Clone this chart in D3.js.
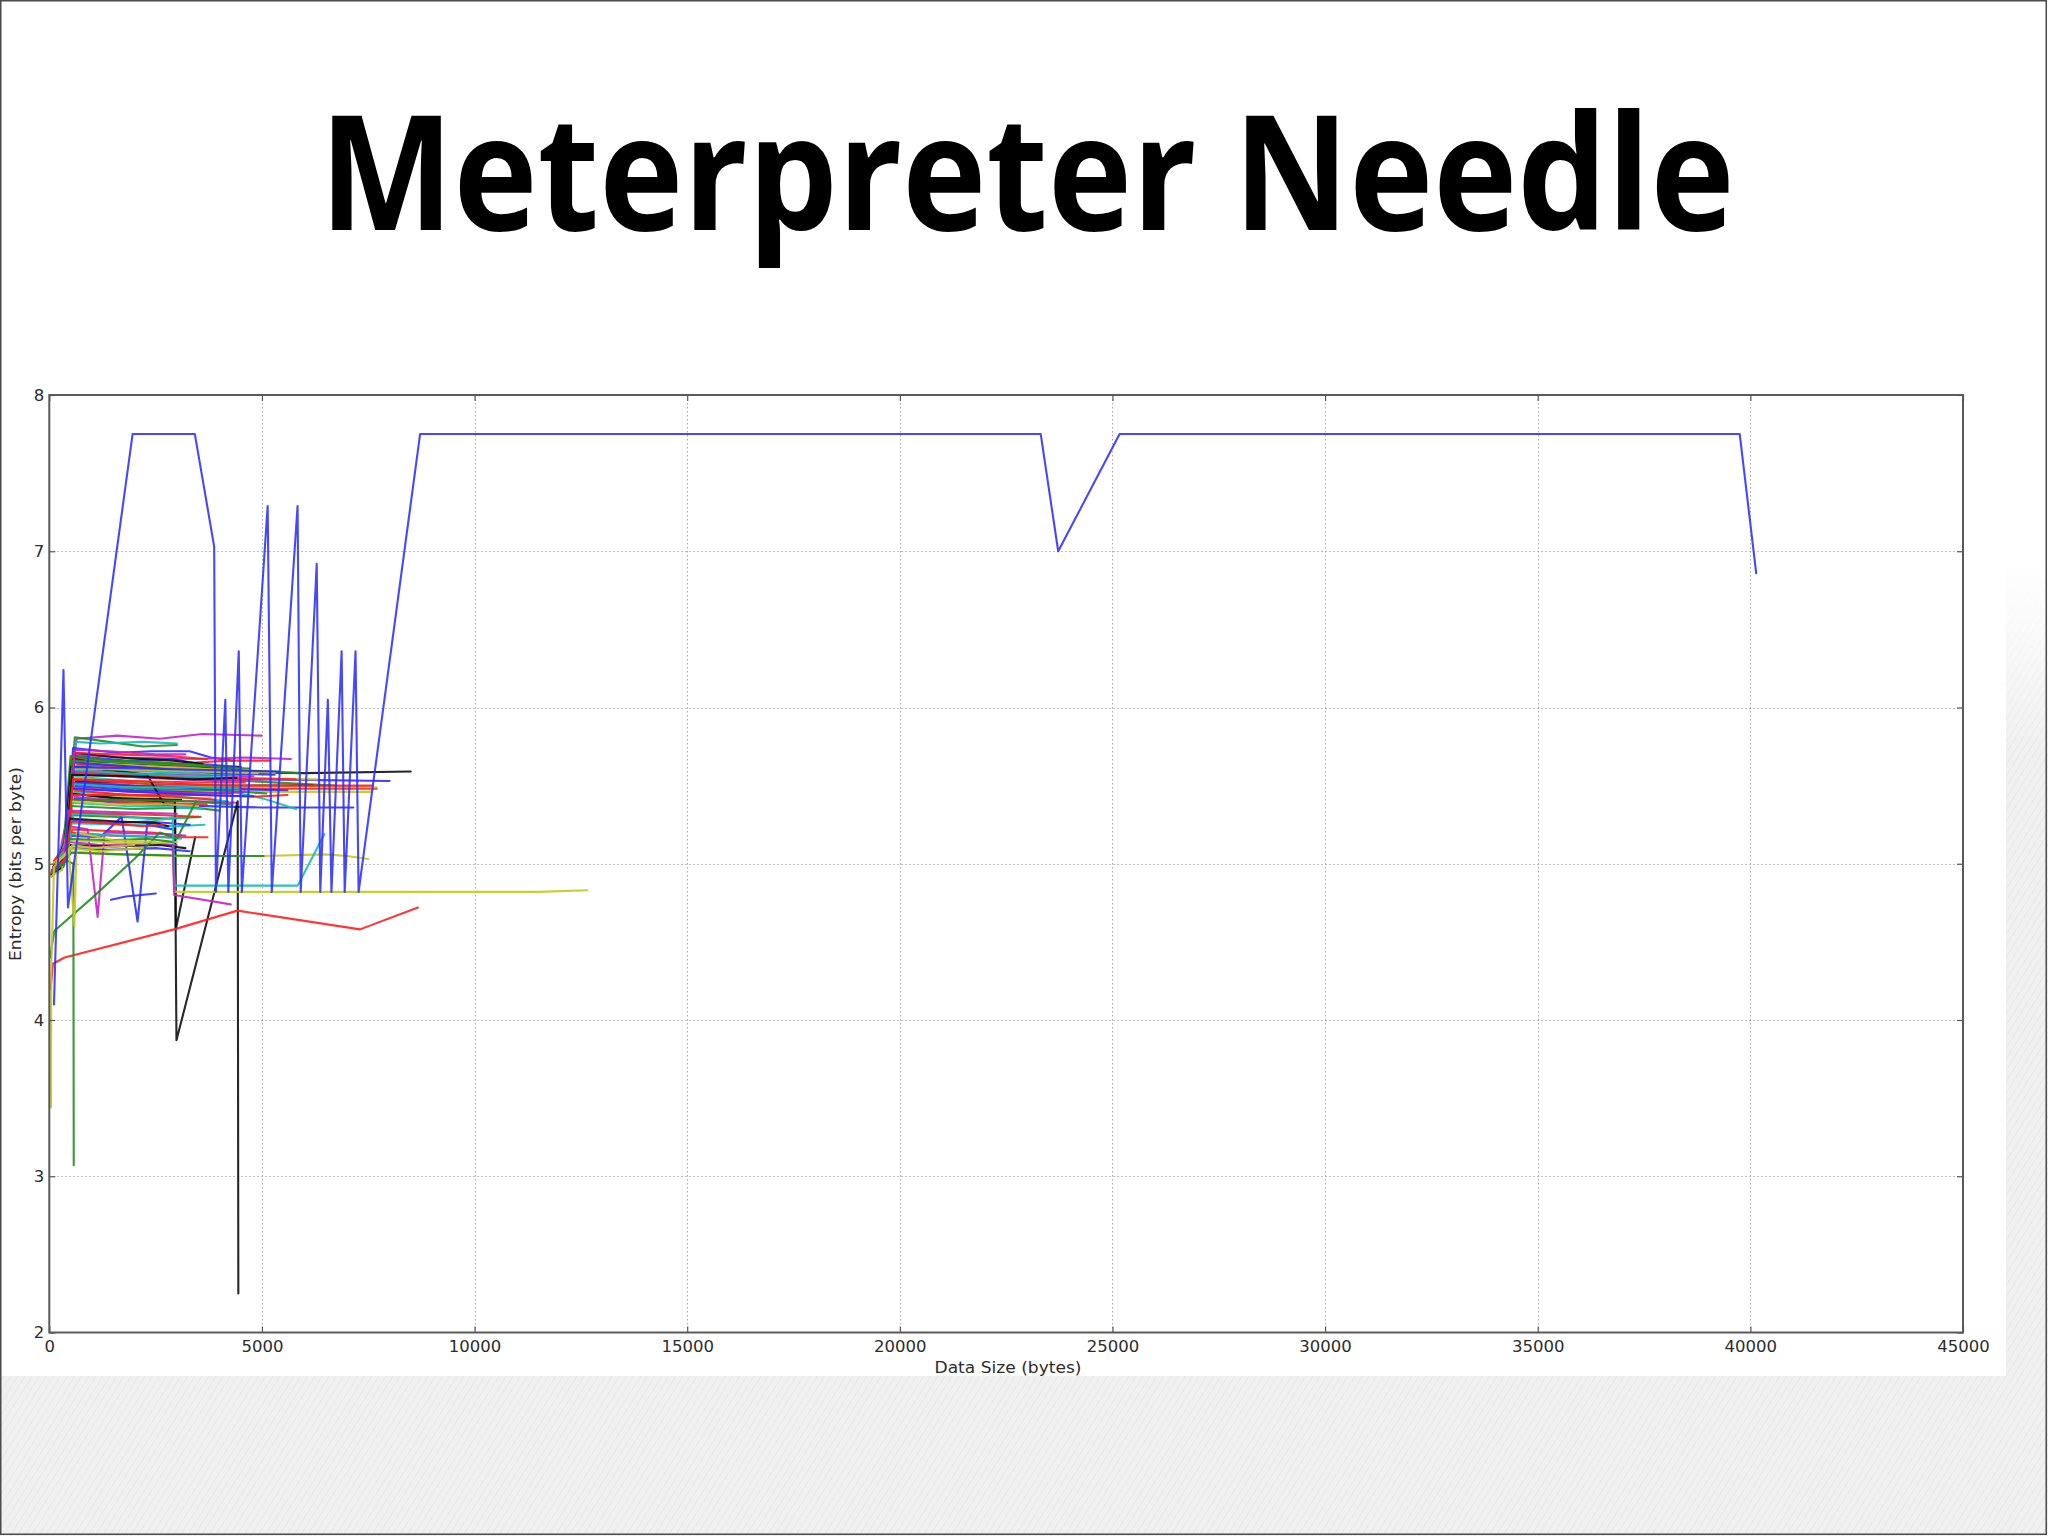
<!DOCTYPE html>
<html><head><meta charset="utf-8">
<script src="https://cdn.jsdelivr.net/npm/d3@7"></script>
<style>html,body{margin:0;padding:0;background:#fff;} svg{display:block}</style>
</head><body>
<svg id="chart" width="2048" height="1536"></svg>
<script>
// ---------------- data ----------------
const titleText = "Meterpreter Needle";
const xLabelText = "Data Size (bytes)";
const yLabelText = "Entropy (bits per byte)";
const xTicks = [0, 5000, 10000, 15000, 20000, 25000, 30000, 35000, 40000, 45000];
const yTicks = [2, 3, 4, 5, 6, 7, 8];
const xDomain = [0, 45000];
const yDomain = [2, 8];

// dense cluster of samples (x = bytes, y = entropy)
const clusterSeries = [
  [[180,4.98],[420,5.30],[640,5.80],[1600,5.82],[2600,5.80],[3600,5.83],[4990,5.82]],
  [[90,4.95],[380,5.10],[600,5.81],[1400,5.78],[2200,5.75],[3000,5.76]],
  [[150,5.02],[430,5.20],[620,5.78],[1200,5.77],[2200,5.78],[3000,5.77]],
  [[60,4.93],[400,5.15],[560,5.74],[1600,5.71],[2400,5.72],[3300,5.72],[3800,5.68],[4300,5.66]],
  [[210,5.00],[450,5.25],[620,5.70],[1800,5.68],[3500,5.67],[4600,5.68],[5680,5.67]],
  [[40,4.92],[360,5.05],[520,5.68],[1500,5.66],[3000,5.64],[4200,5.66],[5200,5.66]],
  [[120,4.96],[380,5.10],[500,5.64],[1300,5.60],[3000,5.59],[6000,5.58],[8500,5.59]],
  [[100,5.00],[400,5.12],[540,5.60],[2000,5.56],[5000,5.54],[8000,5.53]],
  [[70,4.94],[350,5.08],[500,5.53],[2000,5.50],[5000,5.48],[7700,5.48]],
  [[200,5.02],[420,5.12],[580,5.51],[2500,5.47],[5000,5.46],[7550,5.46]],
  [[90,4.97],[360,5.05],[470,5.42],[2000,5.38],[5000,5.36],[7150,5.36]],
  [[230,5.04],[460,5.22],[620,5.64],[2400,5.62],[4400,5.60],[5900,5.58]],
  [[80,4.96],[390,5.10],[490,5.56],[2400,5.52],[4300,5.46],[5000,5.42],[5800,5.35]],
  [[160,5.00],[430,5.18],[560,5.67],[1500,5.64],[3200,5.62],[4500,5.62]],
  [[60,4.95],[370,5.12],[530,5.64],[1600,5.62],[3100,5.62],[4100,5.60]],
  [[250,5.05],[480,5.20],[600,5.58],[2000,5.56],[4000,5.55],[6300,5.54]],
  [[110,4.99],[390,5.10],[540,5.57],[2500,5.55],[4600,5.53],[6700,5.50]],
  [[50,4.94],[340,5.06],[510,5.61],[1700,5.58],[3300,5.57],[4800,5.56]],
  [[190,5.02],[440,5.20],[600,5.69],[1800,5.66],[2900,5.67],[3500,5.64],[4400,5.62]],
  [[100,4.97],[380,5.08],[510,5.46],[2000,5.44],[3400,5.42],[4200,5.40]],
  [[140,5.01],[410,5.12],[550,5.47],[1900,5.44],[3500,5.44],[4900,5.43],[5600,5.44]],
  [[70,4.96],[350,5.06],[480,5.53],[2000,5.52],[4000,5.50],[6200,5.50]],
  [[120,5.00],[400,5.10],[530,5.55],[1800,5.52],[3600,5.50],[7700,5.49]],
  [[220,5.03],[450,5.15],[590,5.51],[2200,5.48],[4000,5.47],[5100,5.45]],
  [[60,4.94],[330,5.04],[490,5.50],[2000,5.47],[4300,5.45]],
  [[130,5.00],[400,5.10],[520,5.43],[1800,5.40],[3500,5.40],[4400,5.39]],
  [[90,4.98],[360,5.06],[500,5.41],[2100,5.39],[3700,5.38]],
  [[200,5.02],[440,5.18],[580,5.63],[1600,5.60],[3200,5.58],[4700,5.57]],
  [[50,4.94],[330,5.04],[460,5.45],[1700,5.42],[3100,5.41]],
  [[260,5.05],[490,5.22],[620,5.65],[2000,5.63],[3500,5.61],[5300,5.58]],
  [[80,4.96],[350,5.05],[480,5.37],[2000,5.35],[3400,5.36],[4000,5.34]],
  [[170,4.99],[420,5.14],[560,5.65],[1500,5.63],[3000,5.60],[4000,5.58],[5300,5.57]],
  [[110,5.02],[390,5.12],[540,5.59],[2000,5.57],[3800,5.55],[5800,5.54]],
  [[70,4.95],[350,5.07],[490,5.49],[1900,5.46],[3600,5.45],[4600,5.46]],
  [[140,4.97],[400,5.08],[510,5.39],[1800,5.37],[3000,5.36],[3600,5.35]],
  [[240,5.03],[470,5.25],[600,5.71],[1600,5.68],[2900,5.66],[3600,5.64]],
  [[100,5.00],[370,5.08],[520,5.45],[2000,5.43],[3800,5.42]],
  [[40,4.93],[320,5.06],[500,5.69],[1400,5.66],[2600,5.65],[3600,5.63],[4500,5.60]],
  [[160,4.99],[420,5.12],[550,5.54],[2300,5.51],[4400,5.50],[7600,5.50]],
  [[80,4.96],[360,5.06],[500,5.52],[1900,5.50],[3800,5.48],[5600,5.47]],
  [[60,4.92],[350,5.08],[510,5.62],[1400,5.60],[2300,5.57],[2700,5.38],[2960,5.38],[2975,4.58],[3430,5.17]],
  [[150,4.96],[400,5.10],[500,5.45],[1500,5.42],[2600,5.40],[2950,5.40],[2990,3.87],[4430,5.40],[4445,2.25]],
  [[180,5.01],[430,5.16],[560,5.60],[1700,5.58],[3300,5.56],[4200,5.55]],
  [[90,4.97],[370,5.09],[530,5.58],[2200,5.55],[3900,5.53],[5000,5.54]],
  [[130,4.99],[390,5.10],[540,5.61],[2000,5.60],[3500,5.59],[4900,5.58]],
  [[60,4.95],[340,5.05],[500,5.41],[1800,5.41],[3300,5.40],[4300,5.38]],
  [[210,5.02],[450,5.18],[580,5.71],[1500,5.70],[2800,5.69],[3700,5.67]],
  [[110,4.98],[380,5.09],[520,5.48],[2100,5.46],[3600,5.44],[4800,5.43]],
  [[150,5.00],[410,5.14],[550,5.66],[1700,5.65],[3100,5.63],[4700,5.61]],
  [[70,4.95],[360,5.07],[500,5.44],[1600,5.44],[2900,5.43],[3900,5.41]],
  [[190,5.01],[440,5.16],[570,5.62],[2100,5.61],[3700,5.60],[5400,5.59]],
  [[100,4.97],[380,5.09],[520,5.51],[1800,5.49],[3300,5.49],[4500,5.48]],
  [[230,5.03],[460,5.20],[600,5.73],[1400,5.72],[2500,5.70],[3200,5.70]],
  [[50,4.94],[330,5.04],[480,5.40],[1500,5.38],[2800,5.38],[3500,5.37]],
  [[120,4.98],[390,5.11],[530,5.57],[1900,5.56],[3400,5.54],[4400,5.55]],
  [[170,5.00],[420,5.13],[560,5.54],[2000,5.53],[3500,5.52],[4600,5.52]],
  [[60,4.94],[330,5.00],[450,5.20],[1500,5.18],[2800,5.17],[3720,5.17]],
  [[100,4.96],[360,5.02],[480,5.26],[1800,5.25],[3000,5.24],[3650,5.25]],
  [[130,4.98],[380,5.05],[500,5.31],[1600,5.30],[2800,5.29],[3560,5.30]],
  [[50,4.95],[320,4.98],[430,5.14],[1200,5.12],[2500,5.13],[3000,5.12]],
  [[150,5.00],[400,5.06],[500,5.28],[1500,5.26],[2300,5.27],[3300,5.25]],
  [[80,4.97],[340,5.00],[480,5.08],[1500,5.06],[3000,5.05],[5000,5.05],[6500,5.06],[7000,5.05],[7500,5.03]],
  [[110,4.99],[370,5.02],[520,5.07],[1800,5.06],[3500,5.05],[5040,5.05]],
  [[170,5.01],[420,5.08],[540,5.22],[1400,5.21],[2400,5.20],[3100,5.18]],
  [[60,4.93],[330,4.98],[440,5.12],[1500,5.11],[2600,5.12],[3200,5.10]],
  [[120,4.98],[360,5.03],[460,5.18],[1200,5.17],[1700,5.30],[2076,4.63],[2300,5.25],[2900,5.22]],
  [[80,4.96],[350,5.02],[470,5.24],[900,5.22],[1136,4.66],[1300,5.20],[2600,5.19],[3200,5.18]],
  [[200,5.03],[440,5.12],[560,5.32],[1600,5.31],[2500,5.28],[3300,5.30]],
  [[40,4.92],[300,4.96],[400,5.15],[1300,5.14],[2200,5.13],[3000,5.14]],
  [[90,4.97],[360,5.04],[490,5.33],[1500,5.32],[2700,5.31],[3500,5.30]],
  [[140,4.99],[390,5.02],[500,5.10],[1400,5.09],[2500,5.10],[3300,5.08]],
  [[160,5.01],[410,5.06],[520,5.19],[1700,5.18],[2700,5.17],[3100,5.16]],
  [[100,4.98],[370,5.04],[480,5.29],[1600,5.27],[2500,5.26],[2800,5.24]],
  [[70,4.94],[340,5.02],[450,5.34],[1700,5.33],[3000,5.32]],
  [[180,5.02],[420,5.06],[550,5.12],[1000,5.10],[2000,5.12]],
  [[90,4.96],[350,5.00],[470,5.16],[1400,5.15],[2300,5.16],[2900,5.14]],
  [[130,4.98],[380,5.03],[510,5.27],[1300,5.26],[2200,5.24],[2700,5.25]],
  [[20,4.40],[117,4.57],[1000,4.78],[2000,5.03],[2600,5.20],[3000,5.16],[3450,5.40]],
  [[30,4.20],[87,4.36],[360,4.40],[2936,4.58],[4424,4.70],[7306,4.58],[8669,4.72]],
  [[2900,5.08],[2950,4.82],[5000,4.82],[8000,4.82],[11500,4.82],[12650,4.83]],
  [[2900,5.30],[2950,4.86],[5840,4.86],[6470,5.19]],
  [[2900,5.12],[2936,4.80],[4267,4.74]],
  [[1450,4.77],[1800,4.79],[2505,4.81]],
  [[100,4.95],[420,5.02],[565,5.00],[575,3.07]],
  [[40,3.44],[45,4.30],[110,4.98],[480,5.10],[1200,5.08],[2200,5.10]],
  [[150,5.00],[460,5.08],[590,4.60],[650,5.20],[1500,5.15],[2500,5.14]]
];
// matplotlib colour-cycle letter of each cluster series
const clusterColors = [
  "m","g","c","b","m","r","k","b","r","y",
  "b","g","c","k","r","y","g","m","b","c",
  "r","k","y","g","b","m","r","c","k","y",
  "g","b","r","m","c","k","y","g","r","b",
  "k","k","c","m","y","g","r","b",
  "g","r","b","c","m","y","k","r",
  "r","c","g","m","b","y","g","r","k","b",
  "m","c","y","r","b","c","k","m","y","g","r",
  "g","r","y","c","m","b","g","y","y"
];

// the long high-entropy sample
const needleSeries = [[110,4.10],[333,6.24],[439,4.72],[1959,7.75],[3423,7.75],[3877,7.03],[3917,4.82],
  [4139,6.05],[4210,4.82],[4455,6.36],[4527,4.82],[5135,7.29],[5231,4.82],[5838,7.29],[5911,4.82],
  [6288,6.92],[6372,4.82],[6550,6.05],[6635,4.82],[6874,6.36],[6946,4.82],[7201,6.36],[7273,4.82],
  [8719,7.75],[23313,7.75],[23724,7.00],[25168,7.75],[39750,7.75],[40137,6.86]];
const needleColor = "b";

const palette = {b:"#2e2eff", g:"#1f8f1f", r:"#ff2020", c:"#12bcbc", m:"#c424c4", y:"#c4c820", k:"#101010"};

// ---------------- drawing ----------------
const svg = d3.select("#chart");
const W = 2048, H = 1536;
const defs = svg.append("defs");

const pat = defs.append("pattern").attr("id","hatch").attr("patternUnits","userSpaceOnUse")
  .attr("width",6).attr("height",6).attr("patternTransform","rotate(32)");
pat.append("rect").attr("width",6).attr("height",6).attr("fill","#f1f0f1");
pat.append("line").attr("x1",0).attr("y1",0).attr("x2",0).attr("y2",6)
  .attr("stroke","#e7e6e7").attr("stroke-width",1.6);

const fade = defs.append("linearGradient").attr("id","fade").attr("x1",0).attr("y1",0).attr("x2",0).attr("y2",1);
fade.append("stop").attr("offset","0").attr("stop-color","#fff").attr("stop-opacity",1);
fade.append("stop").attr("offset","1").attr("stop-color","#fff").attr("stop-opacity",0);

svg.append("rect").attr("width",W).attr("height",H).attr("fill","#fff");
svg.append("rect").attr("x",0).attr("y",560).attr("width",W).attr("height",H-560).attr("fill","url(#hatch)");
svg.append("rect").attr("x",0).attr("y",560).attr("width",W).attr("height",200).attr("fill","url(#fade)");
// the pasted chart picture
svg.append("rect").attr("x",0).attr("y",340).attr("width",2006).attr("height",1036).attr("fill","#fff");

// title
svg.append("text").attr("x",1027).attr("y",230)
  .attr("text-anchor","middle")
  .attr("font-family","'Open Sans', 'Noto Sans', sans-serif").attr("font-weight",700)
  .attr("font-size",159).attr("fill","#000")
  .attr("textLength",1415).attr("lengthAdjust","spacingAndGlyphs")
  .text(titleText);

const pL = 49.3, pR = 1963, pT = 395, pB = 1332.5;
const x = d3.scaleLinear().domain(xDomain).range([pL, pR]);
const y = d3.scaleLinear().domain(yDomain).range([pB, pT]);

defs.append("clipPath").attr("id","plotclip").append("rect")
  .attr("x",pL).attr("y",pT).attr("width",pR-pL).attr("height",pB-pT);

// grid
const grid = svg.append("g").attr("stroke","#a8a8a8").attr("stroke-width",1).attr("stroke-dasharray","1.5,2.5");
grid.selectAll("line.gx").data(xTicks.filter(v => v > xDomain[0] && v < xDomain[1])).join("line")
  .attr("x1",d=>Math.round(x(d))+0.5).attr("x2",d=>Math.round(x(d))+0.5).attr("y1",pT).attr("y2",pB);
grid.selectAll("line.gy").data(yTicks.filter(v => v > yDomain[0] && v < yDomain[1])).join("line")
  .attr("y1",d=>Math.round(y(d))+0.5).attr("y2",d=>Math.round(y(d))+0.5).attr("x1",pL).attr("x2",pR);

// data lines
const line = d3.line().x(d=>x(d[0])).y(d=>y(d[1]));
const plot = svg.append("g").attr("clip-path","url(#plotclip)")
  .attr("fill","none").attr("stroke-linejoin","round").attr("stroke-linecap","round");
plot.selectAll("path.cl").data(clusterSeries).join("path").attr("class","cl")
  .attr("d", line)
  .attr("stroke",(d,i)=>palette[clusterColors[i]])
  .attr("stroke-width",2.1).attr("stroke-opacity",0.9);
plot.append("path").datum(needleSeries).attr("d",line)
  .attr("stroke",palette[needleColor]).attr("stroke-width",2.1).attr("stroke-opacity",0.88);

// axes
const tickFont = "'DejaVu Sans', sans-serif";
const axB = svg.append("g").attr("transform",`translate(0,${pB})`)
  .call(d3.axisBottom(x).tickValues(xTicks).tickFormat(d3.format("d")).tickSizeInner(-6).tickSizeOuter(0).tickPadding(8));
const axL = svg.append("g").attr("transform",`translate(${pL},0)`)
  .call(d3.axisLeft(y).tickValues(yTicks).tickFormat(d3.format("d")).tickSizeInner(-6).tickSizeOuter(0).tickPadding(5));
const axT = svg.append("g").attr("transform",`translate(0,${pT})`)
  .call(d3.axisTop(x).tickValues(xTicks).tickFormat("").tickSizeInner(-6).tickSizeOuter(0));
const axR = svg.append("g").attr("transform",`translate(${pR},0)`)
  .call(d3.axisRight(y).tickValues(yTicks).tickFormat("").tickSizeInner(-6).tickSizeOuter(0));
[axB,axL,axT,axR].forEach(a => {
  a.select(".domain").remove();
  a.selectAll(".tick line").attr("stroke","#555").attr("stroke-width",1.2);
  a.selectAll(".tick text").attr("font-family",tickFont).attr("font-size",16.5).attr("fill","#2c2c2c");
});

// frame
svg.append("rect").attr("x",pL).attr("y",pT).attr("width",pR-pL).attr("height",pB-pT)
  .attr("fill","none").attr("stroke","#5a5a5a").attr("stroke-width",2);

// axis labels
svg.append("text").attr("x",1008).attr("y",1373).attr("text-anchor","middle")
  .attr("font-family",tickFont).attr("font-size",15.5).attr("fill","#2c2c2c")
  .attr("textLength",147).attr("lengthAdjust","spacingAndGlyphs").text(xLabelText);
svg.append("text").attr("transform","translate(21,864) rotate(-90)").attr("text-anchor","middle")
  .attr("font-family",tickFont).attr("font-size",15.5).attr("fill","#2c2c2c")
  .attr("textLength",194).attr("lengthAdjust","spacingAndGlyphs").text(yLabelText);

// slide border
svg.append("rect").attr("x",0.75).attr("y",0.75).attr("width",W-2.5).attr("height",H-2.5)
  .attr("fill","none").attr("stroke","#4a4a4a").attr("stroke-width",1.5);
</script>
</body></html>
